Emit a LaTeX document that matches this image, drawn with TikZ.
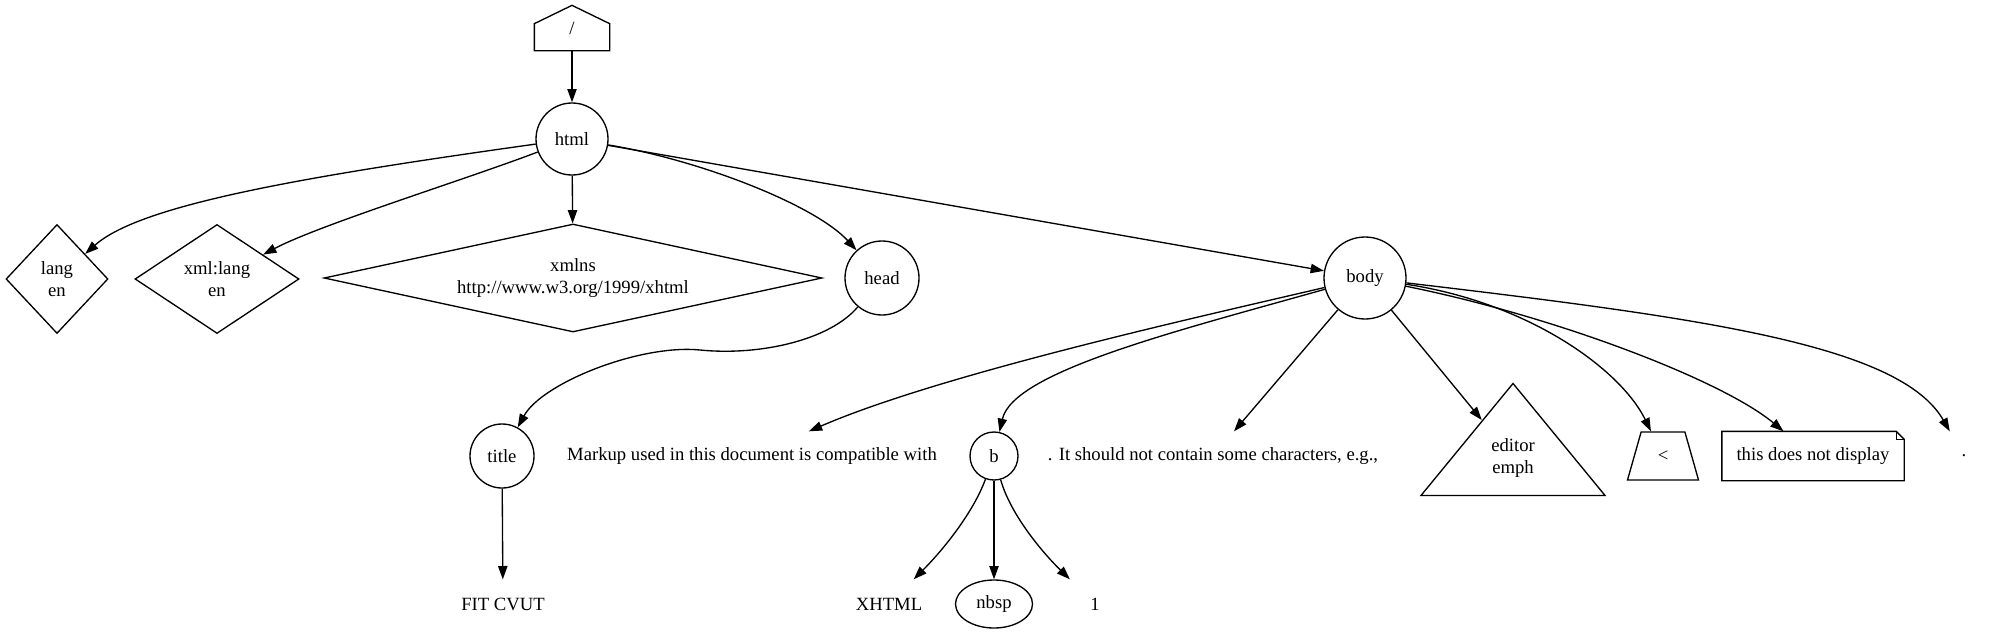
\documentclass[tikz,border=0pt]{standalone}
\usepackage{fontspec}
\setmainfont{Liberation Serif}
\usetikzlibrary{calc,shapes.geometric,arrows.meta}

\begin{document}
\begin{tikzpicture}[
  x={(0.75pt,0pt)},
  y={(0pt,-0.75pt)},
  font=\fontsize{14pt}{16pt}\selectfont,
  line width=1pt
]

% node styles
\tikzset{
  elem/.style={circle, draw=black, inner sep=0pt},
  attr/.style={diamond, draw=black, inner sep=0pt, align=center},
  txt/.style={rectangle, inner xsep=8pt, inner ysep=0pt, minimum width=54pt, minimum height=36pt},
  link/.style={-{Triangle[length=10pt,width=7pt]}}
}

\useasboundingbox (0,0) rectangle (2005,632);

% ===== root =====
\node[minimum width=55.5pt, minimum height=33pt, inner sep=0pt] (root) at (572,28) {/};
\draw (root.south west) -- ($(root.south west)+(0,-27)$) -- (root.north)
  -- ($(root.south east)+(0,-27)$) -- (root.south east) -- cycle;

% ===== elements =====
\node[elem, minimum size=54pt] (html) at (572,139) {html};
\node[elem, minimum size=55.5pt] (head) at (882,278) {head};
\node[elem, minimum size=61.5pt] (body) at (1365,278) {body};
\node[elem, minimum size=48pt] (title) at (502,456) {title};
\node[elem, minimum size=36pt] (b) at (994,456) {b};

% ===== attributes =====
\node[attr, aspect=1, minimum width=76.5pt, minimum height=81.75pt] (lang) at (57,279) {lang\\en};
\node[attr, aspect=1.5, minimum width=123pt, minimum height=81.75pt] (xmllang) at (217,279) {xml:lang\\en};
\node[attr, aspect=4.6, minimum width=373.5pt, minimum height=81pt] (xmlns) at (573,278) {xmlns\\http://www.w3.org/1999/xhtml};

% ===== text =====
\node[txt] (markup) at (752,456) {Markup used in this document is compatible with};
\node[txt] (should) at (1213,456) {. It should not contain some characters, e.g.,};
\node[txt] (dot) at (1964,456) {.};
\node[txt] (fit) at (503,604) {FIT CVUT};
\node[txt] (xhtml) at (889,604) {XHTML};
\node[txt] (one) at (1095,604) {1};

% ===== other shapes =====
\node[isosceles triangle, isosceles triangle stretches, shape border rotate=90, draw,
  minimum width=138pt, minimum height=84pt, inner sep=0pt, align=center] (edit) at (1513,458) {editor\\emph};
\node[trapezium, trapezium left angle=73, trapezium right angle=73, trapezium stretches, draw,
  minimum width=53.25pt, minimum height=36pt, inner sep=0pt] (lt) at (1663,456) {<};
\node[ellipse, draw, minimum width=57.75pt, minimum height=36pt, inner sep=0pt] (nbsp) at (994,604) {nbsp};

% note with folded corner
\node[minimum width=135.75pt, minimum height=36pt, inner sep=0pt] (note) at (1813,456) {this does not display};
\draw (note.south west) -- (note.north west) -- ($(note.north east)+(-8,0)$)
  -- ($(note.north east)+(0,8)$) -- (note.south east) -- cycle;
\draw ($(note.north east)+(-8,0)$) -- ($(note.north east)+(-8,8)$) -- ($(note.north east)+(0,8)$);

% ===== edges =====
\foreach \src/\dst in {root/html, html/xmlns, html/body, title/fit, body/should, body/edit, b/nbsp} {
  \draw[link] (\src) -- (\dst);
}
\draw[link] (html) .. controls (300,177) and (140,205) .. (lang);
\draw[link] (html) .. controls (464,180) and (319,225) .. (xmllang);
\draw[link] (html) .. controls (700,160) and (815,205) .. (head);
\draw[link] (head) .. controls (830,340) and (760,356) .. (700,350)
  .. controls (640,344) and (542,383) .. (title);
\draw[link] (body) .. controls (1203,316) and (941,374) .. (markup);
\draw[link] (body) .. controls (1173,332) and (1013,372) .. (b);
\draw[link] (body) .. controls (1530,303) and (1621,370) .. (lt);
\draw[link] (body) .. controls (1554,316) and (1722,380) .. (note);
\draw[link] (body) .. controls (1704,318) and (1900,345) .. (dot);
\draw[link] (b) .. controls (973,513) and (943,550) .. (xhtml);
\draw[link] (b) .. controls (1010,513) and (1040,550) .. (one);

\end{tikzpicture}
\end{document}
